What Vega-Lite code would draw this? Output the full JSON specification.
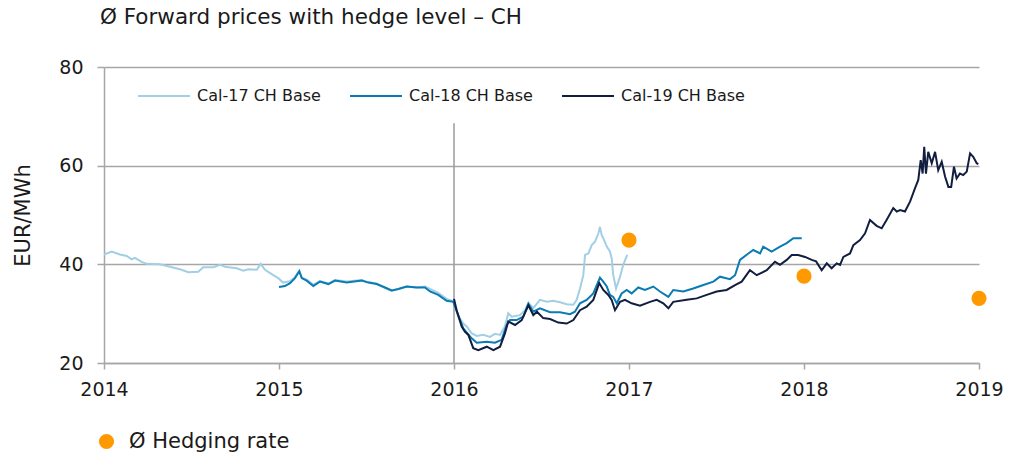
{
  "$schema": "https://vega.github.io/schema/vega-lite/v6.json",
  "width": 875,
  "height": 296,
  "autosize": "none",
  "padding": {"left": 104, "top": 67, "right": 31, "bottom": 96},
  "background": "white",
  "config": {
    "font": "DejaVu Sans",
    "view": {"stroke": null},
    "axis": {"labelFont": "DejaVu Sans", "titleFont": "DejaVu Sans", "labelColor": "#1a1a1a", "titleColor": "#1a1a1a"},
    "legend": {"labelFont": "DejaVu Sans"}
  },
  "title": {
    "text": "Ø Forward prices with hedge level – CH",
    "anchor": "start",
    "frame": "group",
    "dx": -4,
    "offset": 30,
    "fontSize": 21.5,
    "fontWeight": "normal",
    "color": "#1a1a1a"
  },
  "layer": [
    {
      "data": {"values": [{"year": 2016, "lo": 20, "hi": 68.6}]},
      "mark": {"type": "rule", "color": "#9a9a9a", "strokeWidth": 1.5},
      "encoding": {
        "x": {"field": "year", "type": "quantitative", "scale": {"domain": [2014, 2019], "nice": false, "zero": false}},
        "y": {"field": "lo", "type": "quantitative"},
        "y2": {"field": "hi"}
      }
    },
    {
      "data": {"values": [
        {"series": "Cal-17 CH Base", "year": 2014.000, "price": 42.0},
        {"series": "Cal-17 CH Base", "year": 2014.044, "price": 42.6},
        {"series": "Cal-17 CH Base", "year": 2014.091, "price": 42.0},
        {"series": "Cal-17 CH Base", "year": 2014.130, "price": 41.7},
        {"series": "Cal-17 CH Base", "year": 2014.158, "price": 41.0},
        {"series": "Cal-17 CH Base", "year": 2014.177, "price": 41.3},
        {"series": "Cal-17 CH Base", "year": 2014.215, "price": 40.5},
        {"series": "Cal-17 CH Base", "year": 2014.244, "price": 40.1},
        {"series": "Cal-17 CH Base", "year": 2014.320, "price": 40.0},
        {"series": "Cal-17 CH Base", "year": 2014.377, "price": 39.5},
        {"series": "Cal-17 CH Base", "year": 2014.434, "price": 39.0},
        {"series": "Cal-17 CH Base", "year": 2014.482, "price": 38.4},
        {"series": "Cal-17 CH Base", "year": 2014.539, "price": 38.5},
        {"series": "Cal-17 CH Base", "year": 2014.567, "price": 39.4},
        {"series": "Cal-17 CH Base", "year": 2014.625, "price": 39.4},
        {"series": "Cal-17 CH Base", "year": 2014.663, "price": 39.9},
        {"series": "Cal-17 CH Base", "year": 2014.691, "price": 39.5},
        {"series": "Cal-17 CH Base", "year": 2014.758, "price": 39.2},
        {"series": "Cal-17 CH Base", "year": 2014.796, "price": 38.7},
        {"series": "Cal-17 CH Base", "year": 2014.825, "price": 39.0},
        {"series": "Cal-17 CH Base", "year": 2014.873, "price": 38.9},
        {"series": "Cal-17 CH Base", "year": 2014.895, "price": 40.1},
        {"series": "Cal-17 CH Base", "year": 2014.920, "price": 38.9},
        {"series": "Cal-17 CH Base", "year": 2014.967, "price": 37.8},
        {"series": "Cal-17 CH Base", "year": 2014.996, "price": 37.2},
        {"series": "Cal-17 CH Base", "year": 2015.023, "price": 36.3},
        {"series": "Cal-17 CH Base", "year": 2015.063, "price": 36.6},
        {"series": "Cal-17 CH Base", "year": 2015.091, "price": 37.4},
        {"series": "Cal-17 CH Base", "year": 2015.116, "price": 38.7},
        {"series": "Cal-17 CH Base", "year": 2015.130, "price": 37.3},
        {"series": "Cal-17 CH Base", "year": 2015.158, "price": 36.9},
        {"series": "Cal-17 CH Base", "year": 2015.196, "price": 35.9},
        {"series": "Cal-17 CH Base", "year": 2015.234, "price": 36.6},
        {"series": "Cal-17 CH Base", "year": 2015.282, "price": 36.1},
        {"series": "Cal-17 CH Base", "year": 2015.320, "price": 36.8},
        {"series": "Cal-17 CH Base", "year": 2015.387, "price": 36.5},
        {"series": "Cal-17 CH Base", "year": 2015.473, "price": 36.8},
        {"series": "Cal-17 CH Base", "year": 2015.510, "price": 36.4},
        {"series": "Cal-17 CH Base", "year": 2015.558, "price": 36.1},
        {"series": "Cal-17 CH Base", "year": 2015.606, "price": 35.2},
        {"series": "Cal-17 CH Base", "year": 2015.644, "price": 34.6},
        {"series": "Cal-17 CH Base", "year": 2015.682, "price": 35.0},
        {"series": "Cal-17 CH Base", "year": 2015.730, "price": 35.5},
        {"series": "Cal-17 CH Base", "year": 2015.787, "price": 35.3},
        {"series": "Cal-17 CH Base", "year": 2015.834, "price": 35.5},
        {"series": "Cal-17 CH Base", "year": 2015.863, "price": 35.0},
        {"series": "Cal-17 CH Base", "year": 2015.910, "price": 34.2},
        {"series": "Cal-17 CH Base", "year": 2015.958, "price": 33.0},
        {"series": "Cal-17 CH Base", "year": 2015.996, "price": 32.5},
        {"series": "Cal-17 CH Base", "year": 2016.006, "price": 31.4},
        {"series": "Cal-17 CH Base", "year": 2016.025, "price": 29.4},
        {"series": "Cal-17 CH Base", "year": 2016.053, "price": 28.0},
        {"series": "Cal-17 CH Base", "year": 2016.073, "price": 27.4},
        {"series": "Cal-17 CH Base", "year": 2016.101, "price": 26.0},
        {"series": "Cal-17 CH Base", "year": 2016.130, "price": 25.5},
        {"series": "Cal-17 CH Base", "year": 2016.167, "price": 25.7},
        {"series": "Cal-17 CH Base", "year": 2016.206, "price": 25.3},
        {"series": "Cal-17 CH Base", "year": 2016.234, "price": 25.9},
        {"series": "Cal-17 CH Base", "year": 2016.263, "price": 25.7},
        {"series": "Cal-17 CH Base", "year": 2016.291, "price": 27.4},
        {"series": "Cal-17 CH Base", "year": 2016.310, "price": 30.1},
        {"series": "Cal-17 CH Base", "year": 2016.330, "price": 29.4},
        {"series": "Cal-17 CH Base", "year": 2016.377, "price": 29.7},
        {"series": "Cal-17 CH Base", "year": 2016.406, "price": 30.7},
        {"series": "Cal-17 CH Base", "year": 2016.425, "price": 32.2},
        {"series": "Cal-17 CH Base", "year": 2016.453, "price": 31.1},
        {"series": "Cal-17 CH Base", "year": 2016.491, "price": 32.8},
        {"series": "Cal-17 CH Base", "year": 2016.530, "price": 32.4},
        {"series": "Cal-17 CH Base", "year": 2016.567, "price": 32.6},
        {"series": "Cal-17 CH Base", "year": 2016.606, "price": 32.3},
        {"series": "Cal-17 CH Base", "year": 2016.644, "price": 31.9},
        {"series": "Cal-17 CH Base", "year": 2016.682, "price": 31.8},
        {"series": "Cal-17 CH Base", "year": 2016.701, "price": 32.8},
        {"series": "Cal-17 CH Base", "year": 2016.720, "price": 35.1},
        {"series": "Cal-17 CH Base", "year": 2016.739, "price": 37.8},
        {"series": "Cal-17 CH Base", "year": 2016.749, "price": 41.9},
        {"series": "Cal-17 CH Base", "year": 2016.768, "price": 42.2},
        {"series": "Cal-17 CH Base", "year": 2016.787, "price": 43.9},
        {"series": "Cal-17 CH Base", "year": 2016.806, "price": 44.6},
        {"series": "Cal-17 CH Base", "year": 2016.825, "price": 46.3},
        {"series": "Cal-17 CH Base", "year": 2016.834, "price": 47.6},
        {"series": "Cal-17 CH Base", "year": 2016.844, "price": 45.9},
        {"series": "Cal-17 CH Base", "year": 2016.853, "price": 45.3},
        {"series": "Cal-17 CH Base", "year": 2016.873, "price": 43.6},
        {"series": "Cal-17 CH Base", "year": 2016.891, "price": 42.6},
        {"series": "Cal-17 CH Base", "year": 2016.901, "price": 41.2},
        {"series": "Cal-17 CH Base", "year": 2016.910, "price": 37.8},
        {"series": "Cal-17 CH Base", "year": 2016.926, "price": 35.1},
        {"series": "Cal-17 CH Base", "year": 2016.949, "price": 37.5},
        {"series": "Cal-17 CH Base", "year": 2016.967, "price": 39.9},
        {"series": "Cal-17 CH Base", "year": 2016.990, "price": 41.9},

        {"series": "Cal-18 CH Base", "year": 2015.000, "price": 35.4},
        {"series": "Cal-18 CH Base", "year": 2015.034, "price": 35.6},
        {"series": "Cal-18 CH Base", "year": 2015.063, "price": 36.2},
        {"series": "Cal-18 CH Base", "year": 2015.091, "price": 37.2},
        {"series": "Cal-18 CH Base", "year": 2015.116, "price": 38.6},
        {"series": "Cal-18 CH Base", "year": 2015.130, "price": 37.2},
        {"series": "Cal-18 CH Base", "year": 2015.158, "price": 36.7},
        {"series": "Cal-18 CH Base", "year": 2015.196, "price": 35.6},
        {"series": "Cal-18 CH Base", "year": 2015.234, "price": 36.5},
        {"series": "Cal-18 CH Base", "year": 2015.282, "price": 36.0},
        {"series": "Cal-18 CH Base", "year": 2015.320, "price": 36.7},
        {"series": "Cal-18 CH Base", "year": 2015.387, "price": 36.3},
        {"series": "Cal-18 CH Base", "year": 2015.473, "price": 36.7},
        {"series": "Cal-18 CH Base", "year": 2015.510, "price": 36.3},
        {"series": "Cal-18 CH Base", "year": 2015.558, "price": 36.0},
        {"series": "Cal-18 CH Base", "year": 2015.606, "price": 35.3},
        {"series": "Cal-18 CH Base", "year": 2015.644, "price": 34.7},
        {"series": "Cal-18 CH Base", "year": 2015.682, "price": 35.0},
        {"series": "Cal-18 CH Base", "year": 2015.730, "price": 35.5},
        {"series": "Cal-18 CH Base", "year": 2015.787, "price": 35.3},
        {"series": "Cal-18 CH Base", "year": 2015.834, "price": 35.3},
        {"series": "Cal-18 CH Base", "year": 2015.863, "price": 34.5},
        {"series": "Cal-18 CH Base", "year": 2015.910, "price": 33.8},
        {"series": "Cal-18 CH Base", "year": 2015.958, "price": 32.6},
        {"series": "Cal-18 CH Base", "year": 2015.996, "price": 32.4},
        {"series": "Cal-18 CH Base", "year": 2016.006, "price": 31.4},
        {"series": "Cal-18 CH Base", "year": 2016.053, "price": 27.0},
        {"series": "Cal-18 CH Base", "year": 2016.101, "price": 25.0},
        {"series": "Cal-18 CH Base", "year": 2016.130, "price": 24.1},
        {"series": "Cal-18 CH Base", "year": 2016.187, "price": 24.3},
        {"series": "Cal-18 CH Base", "year": 2016.234, "price": 24.1},
        {"series": "Cal-18 CH Base", "year": 2016.272, "price": 24.7},
        {"series": "Cal-18 CH Base", "year": 2016.301, "price": 27.7},
        {"series": "Cal-18 CH Base", "year": 2016.320, "price": 28.7},
        {"series": "Cal-18 CH Base", "year": 2016.358, "price": 28.7},
        {"series": "Cal-18 CH Base", "year": 2016.396, "price": 29.4},
        {"series": "Cal-18 CH Base", "year": 2016.425, "price": 32.0},
        {"series": "Cal-18 CH Base", "year": 2016.453, "price": 30.4},
        {"series": "Cal-18 CH Base", "year": 2016.491, "price": 31.1},
        {"series": "Cal-18 CH Base", "year": 2016.549, "price": 30.3},
        {"series": "Cal-18 CH Base", "year": 2016.606, "price": 30.3},
        {"series": "Cal-18 CH Base", "year": 2016.663, "price": 29.9},
        {"series": "Cal-18 CH Base", "year": 2016.691, "price": 30.4},
        {"series": "Cal-18 CH Base", "year": 2016.720, "price": 32.1},
        {"series": "Cal-18 CH Base", "year": 2016.758, "price": 32.8},
        {"series": "Cal-18 CH Base", "year": 2016.796, "price": 34.1},
        {"series": "Cal-18 CH Base", "year": 2016.834, "price": 37.3},
        {"series": "Cal-18 CH Base", "year": 2016.853, "price": 36.5},
        {"series": "Cal-18 CH Base", "year": 2016.873, "price": 35.5},
        {"series": "Cal-18 CH Base", "year": 2016.891, "price": 33.8},
        {"series": "Cal-18 CH Base", "year": 2016.910, "price": 33.4},
        {"series": "Cal-18 CH Base", "year": 2016.930, "price": 32.1},
        {"series": "Cal-18 CH Base", "year": 2016.958, "price": 34.1},
        {"series": "Cal-18 CH Base", "year": 2016.987, "price": 34.8},
        {"series": "Cal-18 CH Base", "year": 2017.015, "price": 34.1},
        {"series": "Cal-18 CH Base", "year": 2017.053, "price": 35.3},
        {"series": "Cal-18 CH Base", "year": 2017.091, "price": 34.8},
        {"series": "Cal-18 CH Base", "year": 2017.139, "price": 35.5},
        {"series": "Cal-18 CH Base", "year": 2017.177, "price": 34.5},
        {"series": "Cal-18 CH Base", "year": 2017.225, "price": 33.4},
        {"series": "Cal-18 CH Base", "year": 2017.253, "price": 34.8},
        {"series": "Cal-18 CH Base", "year": 2017.310, "price": 34.5},
        {"series": "Cal-18 CH Base", "year": 2017.367, "price": 35.1},
        {"series": "Cal-18 CH Base", "year": 2017.425, "price": 35.8},
        {"series": "Cal-18 CH Base", "year": 2017.482, "price": 36.5},
        {"series": "Cal-18 CH Base", "year": 2017.520, "price": 37.5},
        {"series": "Cal-18 CH Base", "year": 2017.577, "price": 37.0},
        {"series": "Cal-18 CH Base", "year": 2017.606, "price": 37.8},
        {"series": "Cal-18 CH Base", "year": 2017.634, "price": 40.9},
        {"series": "Cal-18 CH Base", "year": 2017.682, "price": 42.2},
        {"series": "Cal-18 CH Base", "year": 2017.710, "price": 42.9},
        {"series": "Cal-18 CH Base", "year": 2017.749, "price": 42.2},
        {"series": "Cal-18 CH Base", "year": 2017.767, "price": 43.6},
        {"series": "Cal-18 CH Base", "year": 2017.815, "price": 42.6},
        {"series": "Cal-18 CH Base", "year": 2017.863, "price": 43.6},
        {"series": "Cal-18 CH Base", "year": 2017.901, "price": 44.3},
        {"series": "Cal-18 CH Base", "year": 2017.939, "price": 45.3},
        {"series": "Cal-18 CH Base", "year": 2017.987, "price": 45.3},

        {"series": "Cal-19 CH Base", "year": 2016.000, "price": 33.0},
        {"series": "Cal-19 CH Base", "year": 2016.015, "price": 30.7},
        {"series": "Cal-19 CH Base", "year": 2016.044, "price": 27.4},
        {"series": "Cal-19 CH Base", "year": 2016.063, "price": 26.3},
        {"series": "Cal-19 CH Base", "year": 2016.082, "price": 25.7},
        {"series": "Cal-19 CH Base", "year": 2016.110, "price": 23.0},
        {"series": "Cal-19 CH Base", "year": 2016.139, "price": 22.6},
        {"series": "Cal-19 CH Base", "year": 2016.187, "price": 23.3},
        {"series": "Cal-19 CH Base", "year": 2016.225, "price": 22.6},
        {"series": "Cal-19 CH Base", "year": 2016.263, "price": 23.3},
        {"series": "Cal-19 CH Base", "year": 2016.291, "price": 26.0},
        {"series": "Cal-19 CH Base", "year": 2016.310, "price": 28.4},
        {"series": "Cal-19 CH Base", "year": 2016.349, "price": 27.7},
        {"series": "Cal-19 CH Base", "year": 2016.387, "price": 28.7},
        {"series": "Cal-19 CH Base", "year": 2016.425, "price": 31.7},
        {"series": "Cal-19 CH Base", "year": 2016.453, "price": 29.7},
        {"series": "Cal-19 CH Base", "year": 2016.474, "price": 30.4},
        {"series": "Cal-19 CH Base", "year": 2016.510, "price": 29.1},
        {"series": "Cal-19 CH Base", "year": 2016.549, "price": 28.9},
        {"series": "Cal-19 CH Base", "year": 2016.596, "price": 28.2},
        {"series": "Cal-19 CH Base", "year": 2016.644, "price": 28.0},
        {"series": "Cal-19 CH Base", "year": 2016.682, "price": 28.7},
        {"series": "Cal-19 CH Base", "year": 2016.720, "price": 30.7},
        {"series": "Cal-19 CH Base", "year": 2016.758, "price": 31.4},
        {"series": "Cal-19 CH Base", "year": 2016.796, "price": 32.8},
        {"series": "Cal-19 CH Base", "year": 2016.830, "price": 36.2},
        {"series": "Cal-19 CH Base", "year": 2016.853, "price": 34.8},
        {"series": "Cal-19 CH Base", "year": 2016.882, "price": 33.8},
        {"series": "Cal-19 CH Base", "year": 2016.901, "price": 32.8},
        {"series": "Cal-19 CH Base", "year": 2016.920, "price": 30.7},
        {"series": "Cal-19 CH Base", "year": 2016.949, "price": 32.4},
        {"series": "Cal-19 CH Base", "year": 2016.977, "price": 32.8},
        {"series": "Cal-19 CH Base", "year": 2017.015, "price": 32.1},
        {"series": "Cal-19 CH Base", "year": 2017.063, "price": 31.6},
        {"series": "Cal-19 CH Base", "year": 2017.120, "price": 32.4},
        {"series": "Cal-19 CH Base", "year": 2017.158, "price": 32.8},
        {"series": "Cal-19 CH Base", "year": 2017.196, "price": 32.1},
        {"series": "Cal-19 CH Base", "year": 2017.225, "price": 31.1},
        {"series": "Cal-19 CH Base", "year": 2017.253, "price": 32.4},
        {"series": "Cal-19 CH Base", "year": 2017.330, "price": 32.8},
        {"series": "Cal-19 CH Base", "year": 2017.387, "price": 33.1},
        {"series": "Cal-19 CH Base", "year": 2017.444, "price": 33.8},
        {"series": "Cal-19 CH Base", "year": 2017.501, "price": 34.5},
        {"series": "Cal-19 CH Base", "year": 2017.558, "price": 34.8},
        {"series": "Cal-19 CH Base", "year": 2017.606, "price": 35.8},
        {"series": "Cal-19 CH Base", "year": 2017.644, "price": 36.5},
        {"series": "Cal-19 CH Base", "year": 2017.691, "price": 38.8},
        {"series": "Cal-19 CH Base", "year": 2017.730, "price": 37.8},
        {"series": "Cal-19 CH Base", "year": 2017.787, "price": 38.8},
        {"series": "Cal-19 CH Base", "year": 2017.834, "price": 40.5},
        {"series": "Cal-19 CH Base", "year": 2017.863, "price": 39.9},
        {"series": "Cal-19 CH Base", "year": 2017.901, "price": 40.9},
        {"series": "Cal-19 CH Base", "year": 2017.930, "price": 41.9},
        {"series": "Cal-19 CH Base", "year": 2017.967, "price": 41.9},
        {"series": "Cal-19 CH Base", "year": 2018.006, "price": 41.5},
        {"series": "Cal-19 CH Base", "year": 2018.044, "price": 40.9},
        {"series": "Cal-19 CH Base", "year": 2018.069, "price": 40.6},
        {"series": "Cal-19 CH Base", "year": 2018.101, "price": 38.8},
        {"series": "Cal-19 CH Base", "year": 2018.130, "price": 40.2},
        {"series": "Cal-19 CH Base", "year": 2018.158, "price": 39.2},
        {"series": "Cal-19 CH Base", "year": 2018.187, "price": 40.2},
        {"series": "Cal-19 CH Base", "year": 2018.206, "price": 39.9},
        {"series": "Cal-19 CH Base", "year": 2018.225, "price": 41.5},
        {"series": "Cal-19 CH Base", "year": 2018.263, "price": 42.2},
        {"series": "Cal-19 CH Base", "year": 2018.282, "price": 43.9},
        {"series": "Cal-19 CH Base", "year": 2018.320, "price": 44.9},
        {"series": "Cal-19 CH Base", "year": 2018.349, "price": 46.3},
        {"series": "Cal-19 CH Base", "year": 2018.377, "price": 49.0},
        {"series": "Cal-19 CH Base", "year": 2018.415, "price": 47.8},
        {"series": "Cal-19 CH Base", "year": 2018.444, "price": 47.3},
        {"series": "Cal-19 CH Base", "year": 2018.472, "price": 49.0},
        {"series": "Cal-19 CH Base", "year": 2018.510, "price": 51.4},
        {"series": "Cal-19 CH Base", "year": 2018.530, "price": 50.7},
        {"series": "Cal-19 CH Base", "year": 2018.549, "price": 51.0},
        {"series": "Cal-19 CH Base", "year": 2018.577, "price": 50.7},
        {"series": "Cal-19 CH Base", "year": 2018.606, "price": 52.7},
        {"series": "Cal-19 CH Base", "year": 2018.634, "price": 55.4},
        {"series": "Cal-19 CH Base", "year": 2018.653, "price": 57.1},
        {"series": "Cal-19 CH Base", "year": 2018.667, "price": 61.1},
        {"series": "Cal-19 CH Base", "year": 2018.678, "price": 58.4},
        {"series": "Cal-19 CH Base", "year": 2018.687, "price": 63.8},
        {"series": "Cal-19 CH Base", "year": 2018.697, "price": 58.4},
        {"series": "Cal-19 CH Base", "year": 2018.710, "price": 62.8},
        {"series": "Cal-19 CH Base", "year": 2018.730, "price": 60.5},
        {"series": "Cal-19 CH Base", "year": 2018.749, "price": 62.8},
        {"series": "Cal-19 CH Base", "year": 2018.767, "price": 59.1},
        {"series": "Cal-19 CH Base", "year": 2018.787, "price": 60.8},
        {"series": "Cal-19 CH Base", "year": 2018.806, "price": 57.8},
        {"series": "Cal-19 CH Base", "year": 2018.825, "price": 55.7},
        {"series": "Cal-19 CH Base", "year": 2018.841, "price": 55.7},
        {"series": "Cal-19 CH Base", "year": 2018.857, "price": 59.8},
        {"series": "Cal-19 CH Base", "year": 2018.872, "price": 57.4},
        {"series": "Cal-19 CH Base", "year": 2018.891, "price": 58.4},
        {"series": "Cal-19 CH Base", "year": 2018.910, "price": 58.1},
        {"series": "Cal-19 CH Base", "year": 2018.930, "price": 58.8},
        {"series": "Cal-19 CH Base", "year": 2018.949, "price": 62.5},
        {"series": "Cal-19 CH Base", "year": 2018.967, "price": 61.8},
        {"series": "Cal-19 CH Base", "year": 2018.987, "price": 60.5},
        {"series": "Cal-19 CH Base", "year": 2018.996, "price": 60.3}
      ]},
      "mark": {"type": "line", "strokeWidth": 2},
      "encoding": {
        "x": {
          "field": "year", "type": "quantitative",
          "scale": {"domain": [2014, 2019], "nice": false, "zero": false},
          "axis": {
            "title": null, "values": [2014, 2015, 2016, 2017, 2018, 2019], "format": "d",
            "grid": false, "domainColor": "#a6a6a6", "domainWidth": 1.5,
            "tickColor": "#a6a6a6", "tickWidth": 1.5, "tickSize": 6,
            "labelFontSize": 19, "labelPadding": 11, "labelFlush": false
          }
        },
        "y": {
          "field": "price", "type": "quantitative",
          "scale": {"domain": [20, 80], "nice": false, "zero": false},
          "axis": {
            "title": "EUR/MWh", "titleFontSize": 21, "titleFontWeight": "normal", "titlePadding": 25,
            "values": [20, 40, 60, 80],
            "grid": true, "gridColor": "#a6a6a6", "gridWidth": 1.5,
            "domainColor": "#a6a6a6", "domainWidth": 1.5,
            "tickColor": "#a6a6a6", "tickWidth": 1.5, "tickSize": 7,
            "labelFontSize": 19, "labelPadding": 14
          }
        },
        "color": {
          "field": "series", "type": "nominal",
          "scale": {"domain": ["Cal-17 CH Base", "Cal-18 CH Base", "Cal-19 CH Base"], "range": ["#a2cfe4", "#0a7bb3", "#121e3f"]},
          "legend": {
            "title": null, "orient": "none", "direction": "horizontal",
            "legendX": 33, "legendY": 2,
            "symbolType": "stroke", "symbolSize": 2704, "symbolStrokeWidth": 2,
            "labelFontSize": 16, "labelColor": "#1a1a1a", "labelOffset": 6, "columnPadding": 25, "labelLimit": 300
          }
        }
      }
    },
    {
      "data": {"values": [
        {"year": 2017, "rate": 44.9, "label": "Ø Hedging rate"},
        {"year": 2018, "rate": 37.6, "label": "Ø Hedging rate"},
        {"year": 2019, "rate": 33.1, "label": "Ø Hedging rate"}
      ]},
      "mark": {"type": "point", "filled": true, "opacity": 1, "size": 230},
      "encoding": {
        "x": {"field": "year", "type": "quantitative"},
        "y": {"field": "rate", "type": "quantitative"},
        "fill": {
          "field": "label", "type": "nominal",
          "scale": {"range": ["#ff9900"]},
          "legend": {
            "title": null, "orient": "none", "legendX": -8, "legendY": 364,
            "symbolType": "circle", "symbolSize": 230, "symbolOpacity": 1,
            "labelFontSize": 21, "labelColor": "#1a1a1a", "labelOffset": 12, "labelLimit": 400
          }
        }
      }
    }
  ]
}
